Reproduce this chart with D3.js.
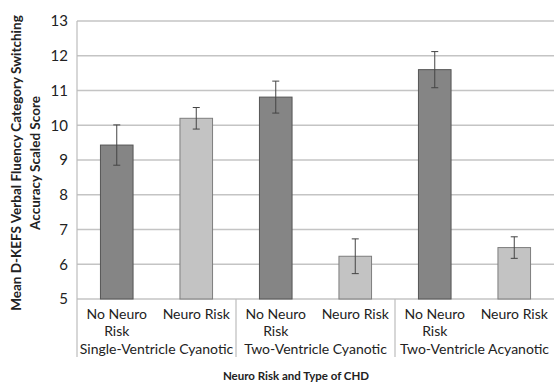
<!DOCTYPE html>
<html>
<head>
<meta charset="utf-8">
<script src="https://cdnjs.cloudflare.com/ajax/libs/d3/7.8.5/d3.min.js"></script>
<style>
  body { margin: 0; background: #fff; }
  text { font-family: Lato, "Open Sans", sans-serif; fill: #222; }
</style>
</head>
<body>
<div id="chart"></div>
<script>
var groups = ["Single-Ventricle Cyanotic", "Two-Ventricle Cyanotic", "Two-Ventricle Acyanotic"];
var riskLabels = ["No Neuro Risk", "Neuro Risk"];
var means = [9.43, 10.2, 10.81, 6.23, 11.6, 6.48];
var errs = [0.58, 0.31, 0.46, 0.5, 0.52, 0.31];
var yTicks = [5, 6, 7, 8, 9, 10, 11, 12, 13];

var width = 554, height = 383;
var margin = {top: 21, left: 77, right: 0, bottom: 84};
var plotW = width - margin.left - margin.right;
var plotH = height - margin.top - margin.bottom;

var svg = d3.select("#chart")
    .append("svg")
    .attr("width", width)
    .attr("height", height);

var g = svg.append("g")
    .attr("transform", "translate(" + margin.left + "," + margin.top + ")");

var bars = [];
groups.forEach(function (grp, gi) {
    riskLabels.forEach(function (r, ri) {
        var i = gi * 2 + ri;
        bars.push({key: i, group: grp, risk: r, ri: ri, mean: means[i], err: errs[i]});
    });
});

var x = d3.scaleBand()
    .domain(bars.map(function (d) { return d.key; }))
    .range([0, plotW])
    .paddingInner(0.59)
    .paddingOuter(0.295);

var y = d3.scaleLinear()
    .domain([5, 13])
    .range([plotH, 0]);

// gridlines
g.selectAll(".grid")
    .data(yTicks)
    .enter()
    .append("line")
    .attr("x1", 0)
    .attr("x2", plotW)
    .attr("y1", function (d) { return y(d); })
    .attr("y2", function (d) { return y(d); })
    .style("stroke", "#c4c4c4")
    .style("stroke-width", 1.5);

// y axis labels
g.selectAll(".ytick")
    .data(yTicks)
    .enter()
    .append("text")
    .attr("x", -9)
    .attr("y", function (d) { return y(d); })
    .attr("dy", "0.35em")
    .style("text-anchor", "end")
    .style("font-size", "15px")
    .text(function (d) { return d; });

// left axis and group separators
var sepX = [0, x.step() * 2, x.step() * 4];
g.selectAll(".sep")
    .data(sepX)
    .enter()
    .append("line")
    .attr("x1", function (d) { return d; })
    .attr("x2", function (d) { return d; })
    .attr("y1", function (d, i) { return i === 0 ? 0 : plotH; })
    .attr("y2", plotH + 58)
    .style("stroke", "#bdbdbd")
    .style("stroke-width", 1.2);

// bars
g.selectAll(".bar")
    .data(bars)
    .enter()
    .append("rect")
    .attr("x", function (d) { return x(d.key); })
    .attr("y", function (d) { return y(d.mean); })
    .attr("width", x.bandwidth())
    .attr("height", function (d) { return plotH - y(d.mean); })
    .style("fill", function (d) { return d.ri === 0 ? "#858585" : "#c3c3c3"; })
    .style("stroke", function (d) { return d.ri === 0 ? "#555" : "#7d7d7d"; })
    .style("stroke-width", 1);

// error bars
var eb = g.selectAll(".err")
    .data(bars)
    .enter()
    .append("g")
    .style("stroke", "#444")
    .style("stroke-width", 1);

eb.append("line")
    .attr("x1", function (d) { return x(d.key) + x.bandwidth() / 2; })
    .attr("x2", function (d) { return x(d.key) + x.bandwidth() / 2; })
    .attr("y1", function (d) { return y(d.mean + d.err); })
    .attr("y2", function (d) { return y(d.mean - d.err); });

[1, -1].forEach(function (s) {
    eb.append("line")
        .attr("x1", function (d) { return x(d.key) + x.bandwidth() / 2 - 3.5; })
        .attr("x2", function (d) { return x(d.key) + x.bandwidth() / 2 + 3.5; })
        .attr("y1", function (d) { return y(d.mean + s * d.err); })
        .attr("y2", function (d) { return y(d.mean + s * d.err); });
});

// category labels
var cat = g.selectAll(".cat")
    .data(bars)
    .enter()
    .append("text")
    .attr("x", function (d) { return x(d.key) + x.bandwidth() / 2; })
    .attr("y", plotH + 20)
    .style("text-anchor", "middle")
    .style("font-size", "14px");

cat.each(function (d) {
    var t = d3.select(this);
    if (d.ri === 0) {
        t.append("tspan").attr("x", x(d.key) + x.bandwidth() / 2).text("No Neuro");
        t.append("tspan").attr("x", x(d.key) + x.bandwidth() / 2).attr("dy", 17).text("Risk");
    } else {
        t.text(d.risk);
    }
});

g.selectAll(".grp")
    .data(groups)
    .enter()
    .append("text")
    .attr("x", function (d, i) { return x.step() * (2 * i + 1); })
    .attr("y", plotH + 55)
    .style("text-anchor", "middle")
    .style("font-size", "14px")
    .text(function (d) { return d; });

// axis titles
svg.append("text")
    .attr("x", 296)
    .attr("y", 380)
    .style("text-anchor", "middle")
    .style("font-size", "11.5px")
    .style("font-weight", "bold")
    .text("Neuro Risk and Type of CHD");

var yt = svg.append("text")
    .attr("transform", "translate(0,163) rotate(-90)")
    .style("text-anchor", "middle")
    .style("font-size", "13.5px")
    .style("font-weight", "bold");
yt.append("tspan").attr("x", 0).attr("y", 21).text("Mean D-KEFS Verbal Fluency Category Switching");
yt.append("tspan").attr("x", 0).attr("y", 40).text("Accuracy Scaled Score");
</script>
</body>
</html>
